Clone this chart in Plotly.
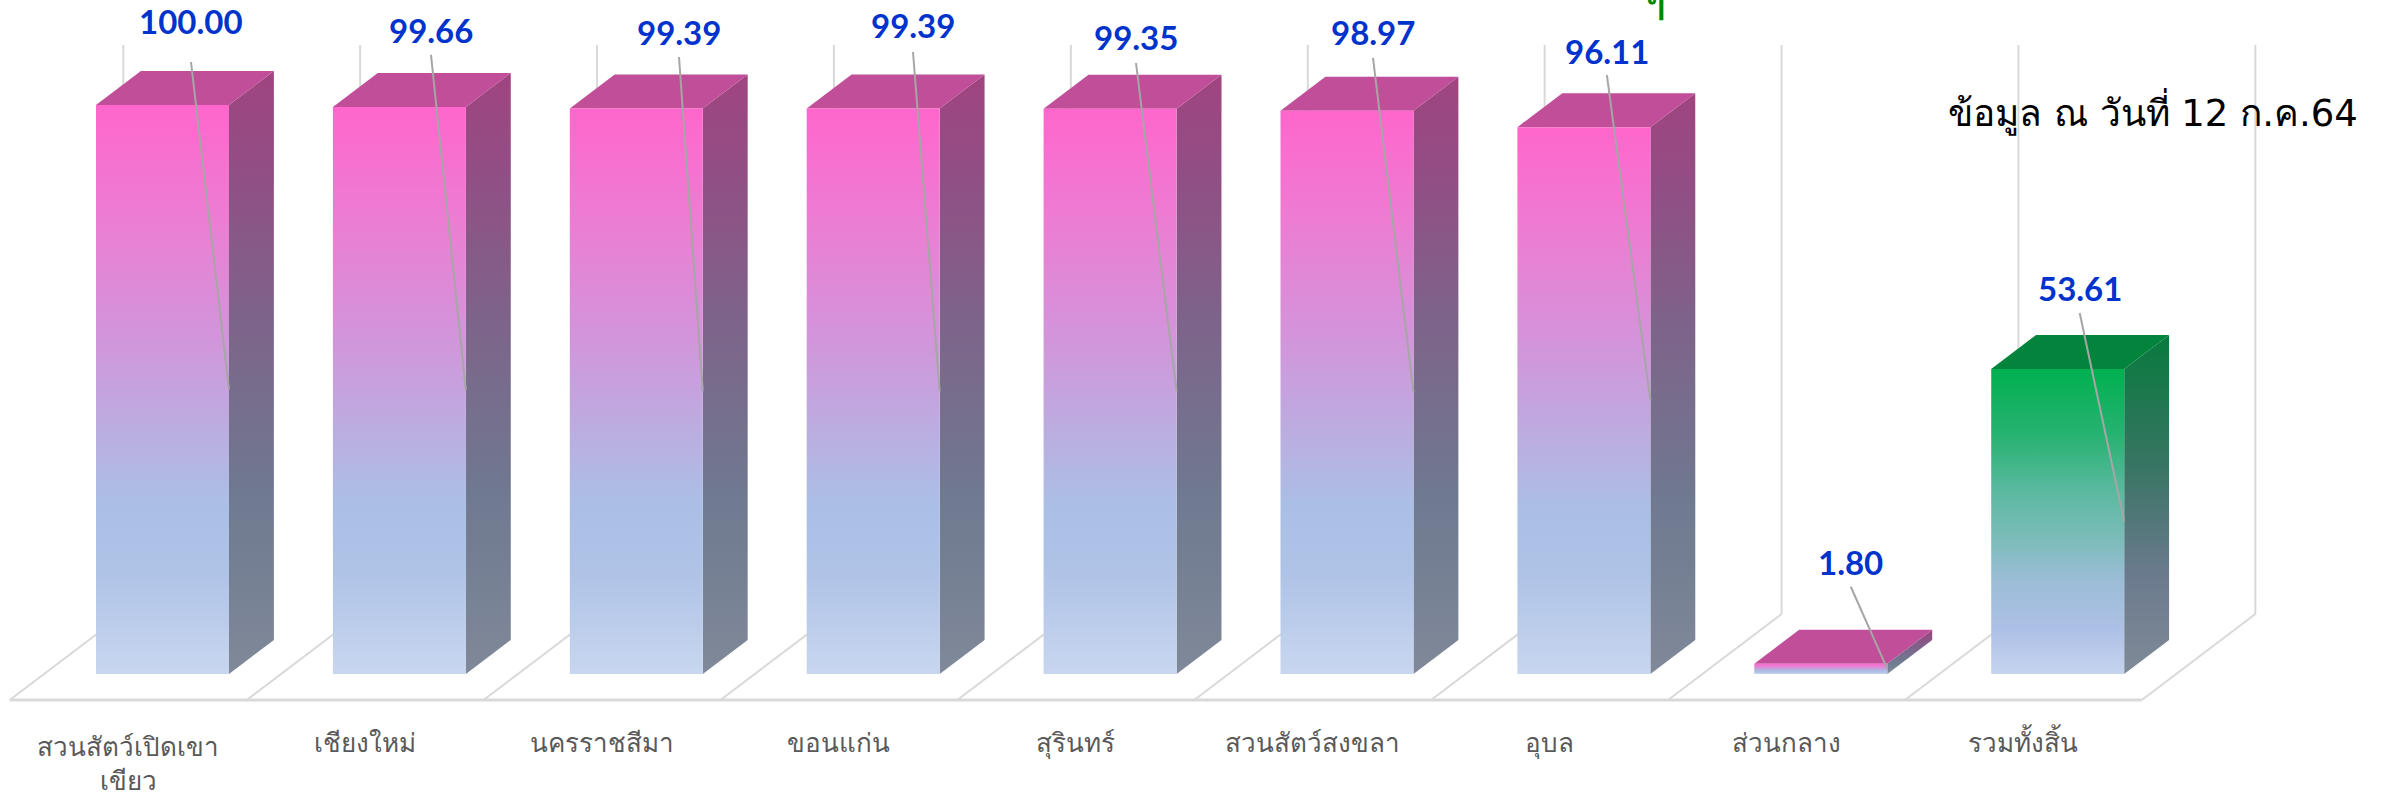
import plotly.graph_objects as go

# ---------------- data ----------------
categories = ["สวนสัตว์เปิดเขา<br>เขียว", "เชียงใหม่", "นครราชสีมา", "ขอนแก่น", "สุรินทร์",
              "สวนสัตว์สงขลา", "อุบล", "ส่วนกลาง", "รวมทั้งสิ้น"]
values = [100.00, 99.66, 99.39, 99.39, 99.35, 98.97, 96.11, 1.80, 53.61]
value_labels = ["100.00", "99.66", "99.39", "99.39", "99.35", "98.97", "96.11", "1.80", "53.61"]
bar_kind = ["pink"] * 8 + ["green"]
note_text = "ข้อมูล ณ วันที่ 12 ก.ค.64"

# ---------------- geometry / style ----------------
W, H = 2381, 800
PX_CAT = 236.9        # px per category
PX_UNIT = 5.69        # px per value unit
X0_PX = 162.5         # px of first category centre
Y0_PX = 674.0         # px of value 0 (bar front base)
SLANT = 1.32          # depth: dx px per dy px
BAR_D = 34.0          # bar depth (dy px)
FLOOR_F = -26.0       # floor front depth
FLOOR_B = 60.0        # floor back depth
HALF_W = 66.5 / PX_CAT
WALL_TOP = 100.0

def dxy(d):
    return d * SLANT / PX_CAT, d / PX_UNIT

x_range = [-X0_PX / PX_CAT, (W - X0_PX) / PX_CAT]
y_range = [(Y0_PX - H) / PX_UNIT, Y0_PX / PX_UNIT]

# label offsets relative to front-top-centre of bar (px: dx, dy downward)
label_offsets = [(28.5, -84), (31.6, -77), (42.7, -76.5), (39.8, -83.5), (25.9, -71.7),
                 (26, -78.9), (23, -76), (30, -102), (22, -81)]
leader_gap = [41, 25, 25, 27, 26, 26, 24, 25, 25]

styles = {
    "pink": dict(
        front=[[0, "#C8D6EF"], [0.18, "#AFC3E7"], [0.3, "#ABBFE6"], [0.45, "#BEAADF"],
               [0.6, "#D394DA"], [0.8, "#EC7DD3"], [1, "#FF66CC"]],
        side=[[0, "#7F8999"], [0.3, "#6F7990"], [0.6, "#7E6389"], [0.85, "#934D84"], [1, "#A0447F"]],
        top="#C04E98"),
    "green": dict(
        front=[[0, "#C6D4EE"], [0.15, "#ACC0E6"], [0.3, "#9DBDD8"], [0.45, "#7ABCB8"],
               [0.6, "#5BB9A0"], [0.78, "#28B272"], [1, "#00B050"]],
        side=[[0, "#808A98"], [0.3, "#6A7A8D"], [0.6, "#3A7565"], [1, "#077A3D"]],
        top="#03843C"),
}

fig = go.Figure()
GRID = "#D9D9D9"

def line(xs, ys, color=GRID, width=2):
    fig.add_trace(go.Scatter(x=xs, y=ys, mode="lines", line=dict(color=color, width=width),
                             hoverinfo="skip", showlegend=False))

n = len(categories)
fx, fy = dxy(FLOOR_F)
bx, by = dxy(FLOOR_B)
# floor + back wall
for k in range(n + 1):
    xb = k - 0.5
    line([xb + fx, xb + bx, xb + bx], [fy, by, by + WALL_TOP])
line([-0.5 + fx, n - 0.5 + fx], [fy, fy], width=3)

ddx, ddy = dxy(BAR_D)
for i, v in enumerate(values):
    st = styles[bar_kind[i]]
    xl, xr = i - HALF_W, i + HALF_W
    # side
    fig.add_trace(go.Scatter(x=[xr, xr + ddx, xr + ddx, xr, xr], y=[0, ddy, v + ddy, v, 0],
                             fill="toself", mode="lines", line=dict(width=0),
                             fillgradient=dict(type="vertical", colorscale=st["side"]),
                             hoverinfo="skip", showlegend=False))
    # top
    fig.add_trace(go.Scatter(x=[xl, xl + ddx, xr + ddx, xr, xl], y=[v, v + ddy, v + ddy, v, v],
                             fill="toself", mode="lines", line=dict(width=0), fillcolor=st["top"],
                             hoverinfo="skip", showlegend=False))
    # front
    fig.add_trace(go.Scatter(x=[xl, xr, xr, xl, xl], y=[0, 0, v, v, 0],
                             fill="toself", mode="lines", line=dict(width=0),
                             fillgradient=dict(type="vertical", colorscale=st["front"]),
                             hoverinfo="skip", showlegend=False))

annotations = []
for i, v in enumerate(values):
    ox, oy = label_offsets[i]
    lx = i + ox / PX_CAT
    ly = v - oy / PX_UNIT
    sy = ly - leader_gap[i] / PX_UNIT
    line([lx, i + HALF_W], [sy, v / 2], color="#A6A6A6", width=2)
    annotations.append(dict(x=lx, y=ly, text=value_labels[i], showarrow=False,
                            font=dict(family="Lato, 'Open Sans', sans-serif", size=33, color="#0033CC",
                                      weight="bold"),
                            xanchor="center", yanchor="middle"))

cat_x_shift = fx
for i, c in enumerate(categories):
    annotations.append(dict(x=i + cat_x_shift, y=(Y0_PX - 742) / PX_UNIT, text=c, showarrow=False,
                            xanchor="center", yanchor="top" if "<br>" in c else "middle",
                            yshift=16 if "<br>" in c else 0,
                            font=dict(family="'Noto Sans', 'DejaVu Sans', sans-serif", size=26,
                                      color="#595959")))

annotations.append(dict(x=2153 / W, y=1 - 111 / H, xref="paper", yref="paper", text=note_text,
                        showarrow=False, xanchor="center", yanchor="middle",
                        font=dict(family="'DejaVu Sans', 'Noto Sans', sans-serif", size=37, color="#000000")))
annotations.append(dict(x=1655 / W, y=1 - 26 / H, xref="paper", yref="paper", text="ๆ",
                        showarrow=False, xanchor="center", yanchor="bottom",
                        font=dict(family="'Noto Sans', sans-serif", size=36, color="#008A00", weight="bold")))

fig.update_layout(
    width=W, height=H, margin=dict(l=0, r=0, t=0, b=0),
    paper_bgcolor="white", plot_bgcolor="white",
    xaxis=dict(range=x_range, visible=False, fixedrange=True),
    yaxis=dict(range=y_range, visible=False, fixedrange=True),
    annotations=annotations, showlegend=False,
)

fig.write_html("out.html", config={"displayModeBar": False},
               post_script="document.body.style.margin='0';document.body.style.overflow='hidden';")
